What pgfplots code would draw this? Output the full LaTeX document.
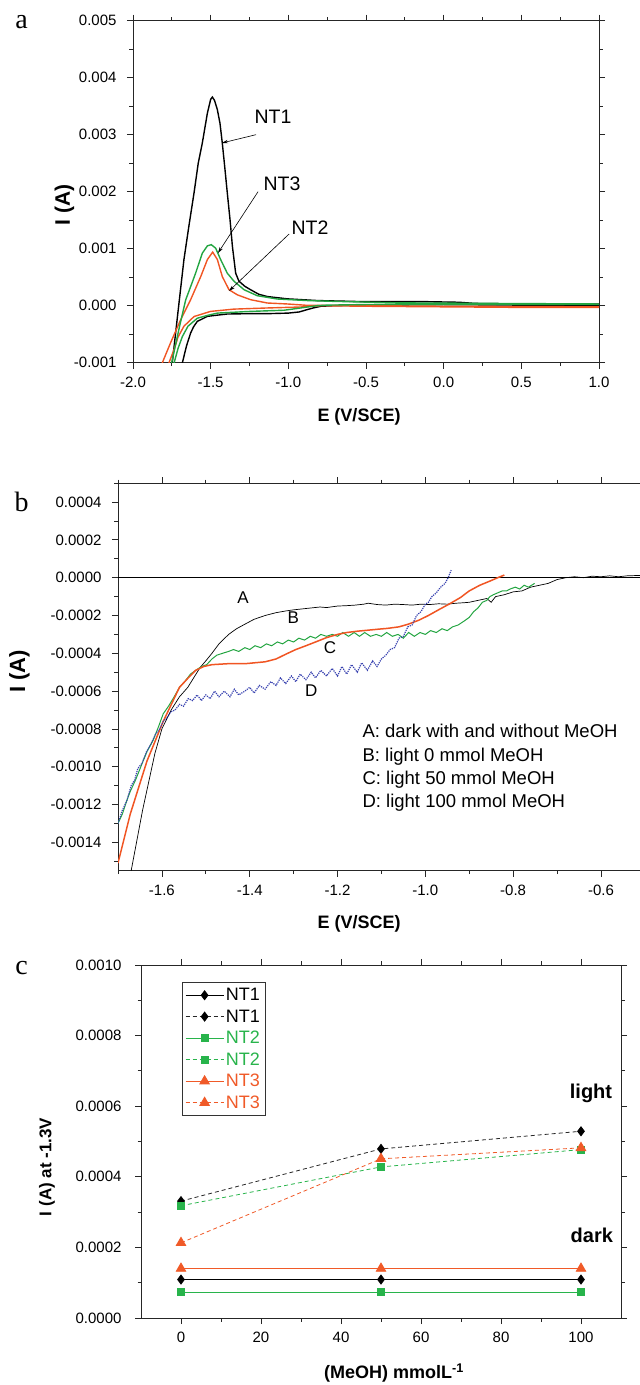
\documentclass[border=0pt]{standalone}
\usepackage{fontspec}
\setmainfont{Liberation Sans}
\newfontfamily\seriffont{Liberation Serif}
\usepackage{pgfplots}
\pgfplotsset{compat=1.18}
\usetikzlibrary{arrows.meta}

\definecolor{cvgreen}{RGB}{35,165,65}
\definecolor{cvorange}{RGB}{240,85,35}
\definecolor{cvblue}{RGB}{55,65,175}
\definecolor{mkgreen}{RGB}{40,180,75}
\definecolor{mkorange}{RGB}{240,90,40}

\pgfplotsset{
  common/.style={
    scale only axis,
    anchor=south west,
    tick align=outside,
    axis line style={line width=0.9bp, black!85},
    major tick length=6bp, minor tick length=3.5bp,
    every tick/.style={black!85, line width=0.8bp},
    tick label style={font=\fontsize{15bp}{18bp}\selectfont},
    xticklabel style={yshift=-5bp},
    yticklabel style={xshift=-7bp},
    /pgf/number format/assume math mode=true,
    scaled ticks=false,
    clip=true,
  }
}

\begin{document}
\begin{tikzpicture}
\useasboundingbox (0bp,0bp) rectangle (640bp,1385bp);

% panel letters
\node[font=\seriffont\fontsize{28bp}{30bp}\selectfont] at (21.5bp,1362.5bp) {a};
\node[font=\seriffont\fontsize{28bp}{30bp}\selectfont] at (21.5bp,883bp) {b};
\node[font=\seriffont\fontsize{28bp}{30bp}\selectfont] at (21.5bp,416.5bp) {c};

% ---------------- panel a ----------------
\begin{axis}[common,
  at={(133bp,1022.3bp)}, width=466bp, height=342bp,
  xmin=-2, xmax=1, ymin=-0.001, ymax=0.005,
  xtick={-2,-1.5,-1,-0.5,0,0.5,1}, minor x tick num=1,
  ytick={-0.001,0,0.001,0.002,0.003,0.004,0.005}, minor y tick num=1,
  xticklabel style={/pgf/number format/.cd,fixed,fixed zerofill,precision=1},
  yticklabel style={/pgf/number format/.cd,fixed,fixed zerofill,precision=3},
  xlabel={E (V/SCE)}, ylabel={I (A)},
  xlabel style={at={(rel axis cs:0.485,-0.159)},anchor=center,font=\bfseries\fontsize{18bp}{21bp}\selectfont},
  ylabel style={at={(rel axis cs:-0.147,0.461)},anchor=center,font=\bfseries\fontsize{21bp}{24bp}\selectfont},
]
% NT1 black
\addplot[black, line width=1.4bp] coordinates {
(1.0,0.00001) (0.5,0.00001) (0.0,0.00002) (-0.5,0.00001) (-0.7,0.0) (-0.79,-0.00001) (-0.84,-0.00004) (-0.88,-0.00007) (-0.93,-0.00011) (-1.0,-0.00013) (-1.135,-0.00014) (-1.25,-0.00014) (-1.393,-0.000146) (-1.47,-0.00017) (-1.521,-0.000187) (-1.56,-0.00024) (-1.586,-0.000275) (-1.61,-0.00037) (-1.629,-0.00048) (-1.655,-0.0007) (-1.682,-0.001) (-1.71,-0.0014)
(-1.765,-0.0014) (-1.747,-0.001) (-1.71,-0.0001) (-1.672,0.00081) (-1.64,0.0014) (-1.607,0.00198) (-1.58,0.0025) (-1.554,0.00285) (-1.521,0.00338) (-1.50,0.00362) (-1.489,0.00366) (-1.475,0.0036) (-1.457,0.00344) (-1.44,0.0032) (-1.425,0.00285) (-1.41,0.00245) (-1.393,0.00198) (-1.375,0.0015) (-1.36,0.00104) (-1.339,0.00057) (-1.318,0.00043) (-1.28,0.00034) (-1.243,0.00028) (-1.19,0.0002) (-1.135,0.00016) (-1.006,0.00012) (-0.813,0.00009) (-0.5,0.00007) (-0.1,0.00007) (0.1,0.00006) (0.2,0.00004) (0.5,0.00003) (1.0,0.00003)
};
% NT2 orange
\addplot[cvorange, line width=1.4bp] coordinates {
(1.0,-0.00003) (0.5,-0.00003) (0,-0.00002) (-0.5,-0.00001) (-0.792,0.0) (-0.92,-0.000023) (-1.135,-0.00004) (-1.35,-0.00006) (-1.5,-0.0001) (-1.607,-0.00019) (-1.672,-0.00036) (-1.71,-0.00055) (-1.736,-0.00077) (-1.768,-0.001) (-1.79,-0.0013)
(-1.83,-0.0013) (-1.811,-0.001) (-1.758,-0.00065) (-1.693,-0.000246) (-1.629,0.000105) (-1.564,0.00051) (-1.521,0.00081) (-1.487,0.00094) (-1.457,0.00081) (-1.425,0.00051) (-1.382,0.00028) (-1.328,0.00019) (-1.243,0.000105) (-1.135,0.000047) (-1.006,0.00003) (-0.878,0.000006) (-0.5,0.0) (0,-0.00001) (1.0,-0.00002)
};
% NT3 green
\addplot[cvgreen, line width=1.4bp] coordinates {
(1.0,0.00002) (0.3,0.00002) (-0.5,0.00002) (-0.75,0.00001) (-0.813,0.0) (-0.87,-0.00002) (-0.92,-0.00004) (-1.028,-0.00008) (-1.243,-0.0001) (-1.457,-0.00013) (-1.52,-0.00017) (-1.586,-0.00022) (-1.646,-0.00036) (-1.682,-0.00054) (-1.71,-0.00075) (-1.735,-0.001) (-1.75,-0.0013)
(-1.77,-0.0013) (-1.751,-0.001) (-1.70,-0.00036) (-1.661,0.0001) (-1.62,0.0004) (-1.597,0.00057) (-1.554,0.00092) (-1.521,0.00105) (-1.496,0.00107) (-1.468,0.00101) (-1.436,0.00081) (-1.393,0.00057) (-1.35,0.00043) (-1.285,0.00028) (-1.2,0.000175) (-1.071,0.000117) (-0.878,0.00009) (-0.706,0.000076) (-0.3,0.00005) (0.3,0.00004) (1.0,0.00003)
};
\node[font=\fontsize{19.5bp}{22bp}\selectfont] at (axis cs:-1.099,0.00331) {NT1};
\node[font=\fontsize{19.5bp}{22bp}\selectfont] at (axis cs:-1.041,0.002135) {NT3};
\node[font=\fontsize{19.5bp}{22bp}\selectfont] at (axis cs:-0.86,0.001363) {NT2};
\draw[-{Stealth[length=6bp,width=3.5bp]}, line width=0.6bp] (axis cs:-1.208,0.003) -- (axis cs:-1.427,0.002855);
\draw[-{Stealth[length=6bp,width=3.5bp]}, line width=0.6bp] (axis cs:-1.195,0.002) -- (axis cs:-1.453,0.000924);
\draw[-{Stealth[length=6bp,width=3.5bp]}, line width=0.6bp] (axis cs:-0.995,0.001258) -- (axis cs:-1.382,0.000258);
\end{axis}

% ---------------- panel b ----------------
\begin{axis}[common,
  at={(118bp,514.3bp)}, width=522bp, height=387.5bp,
  xmin=-1.7, xmax=-0.511, ymin=-0.00155, ymax=0.0005,
  axis x line*=box, axis y line*=left,
  xtick={-1.6,-1.4,-1.2,-1,-0.8,-0.6},
  minor xtick={-1.7,-1.5,-1.3,-1.1,-0.9,-0.7},
  ytick={-0.0014,-0.0012,-0.001,-0.0008,-0.0006,-0.0004,-0.0002,0,0.0002,0.0004},
  minor ytick={-0.0015,-0.0013,-0.0011,-0.0009,-0.0007,-0.0005,-0.0003,-0.0001,0.0001,0.0003,0.0005},
  xticklabel style={/pgf/number format/.cd,fixed,fixed zerofill,precision=1},
  yticklabel style={/pgf/number format/.cd,fixed,fixed zerofill,precision=4},
  xlabel={E (V/SCE)}, ylabel={I (A)},
  xlabel style={at={(rel axis cs:0.462,-0.1375)},anchor=center,font=\bfseries\fontsize{18bp}{21bp}\selectfont},
  ylabel style={at={(rel axis cs:-0.189,0.514)},anchor=center,font=\bfseries\fontsize{22bp}{25bp}\selectfont},
]
\addplot[black, line width=0.9bp] coordinates {(-1.7,0) (-0.511,0)};
% A black
\addplot[black, line width=0.7bp] coordinates {
(-1.67,-0.00155) (-1.644,-0.00123) (-1.616,-0.00093) (-1.60,-0.0008) (-1.579,-0.0007) (-1.56,-0.00063) (-1.541,-0.00058) (-1.525,-0.00052) (-1.513,-0.000475) (-1.5,-0.00044) (-1.486,-0.0004) (-1.47,-0.00035) (-1.448,-0.0003) (-1.43,-0.00027) (-1.411,-0.000246) (-1.39,-0.00022) (-1.365,-0.0002) (-1.34,-0.000185) (-1.318,-0.000176) (-1.30,-0.00017) (-1.28,-0.000165) (-1.26,-0.00016) (-1.24,-0.000155) (-1.225,-0.000158) (-1.2,-0.00015) (-1.18,-0.000148) (-1.16,-0.000145) (-1.14,-0.00014) (-1.13,-0.000135) (-1.11,-0.000142) (-1.09,-0.000145) (-1.07,-0.00014) (-1.05,-0.000142) (-1.03,-0.000145) (-1.01,-0.00014) (-0.99,-0.000142) (-0.97,-0.000138) (-0.95,-0.00014) (-0.93,-0.000135) (-0.91,-0.000132) (-0.90,-0.00013) (-0.88,-0.00012) (-0.86,-0.00011) (-0.85,-0.00013) (-0.84,-0.0001) (-0.82,-0.00009) (-0.80,-0.000075) (-0.78,-0.00007) (-0.76,-0.00005) (-0.74,-0.00004) (-0.72,-0.00003) (-0.70,-0.00001) (-0.68,0.0) (-0.66,0.000005) (-0.64,0.0) (-0.62,0.000008) (-0.60,0.000005) (-0.58,0.00001) (-0.56,0.000005) (-0.54,0.00001) (-0.511,0.000012)
};
% B green
\addplot[cvgreen, line width=1.0bp] coordinates {
(-1.700,-0.00130) (-1.690,-0.00125) (-1.680,-0.00118) (-1.672,-0.00113) (-1.660,-0.00107) (-1.648,-0.00100) (-1.634,-0.00092) (-1.620,-0.00086) (-1.608,-0.00079) (-1.597,-0.00072) (-1.585,-0.00068) (-1.572,-0.00063) (-1.560,-0.00058) (-1.548,-0.00055) (-1.535,-0.00051) (-1.523,-0.00049) (-1.510,-0.00047) (-1.498,-0.00046) (-1.486,-0.00043) (-1.475,-0.00041) (-1.462,-0.00040) (-1.448,-0.00039) (-1.437,-0.00038) (-1.425,-0.00039) (-1.411,-0.00037) (-1.400,-0.00038) (-1.388,-0.00036) (-1.375,-0.00037) (-1.362,-0.00035) (-1.350,-0.00036) (-1.337,-0.00034) (-1.325,-0.00035) (-1.312,-0.00033) (-1.300,-0.00034) (-1.288,-0.00032) (-1.275,-0.00033) (-1.262,-0.00031) (-1.250,-0.00032) (-1.238,-0.00030) (-1.225,-0.00031) (-1.212,-0.00030) (-1.200,-0.00031) (-1.188,-0.00029) (-1.175,-0.00031) (-1.162,-0.00029) (-1.150,-0.00031) (-1.138,-0.00029) (-1.125,-0.00031) (-1.112,-0.00030) (-1.100,-0.00031) (-1.088,-0.00029) (-1.075,-0.00031) (-1.062,-0.00030) (-1.050,-0.00032) (-1.038,-0.00029) (-1.025,-0.00031) (-1.012,-0.00029) (-1.000,-0.00030) (-0.988,-0.00028) (-0.975,-0.00029) (-0.962,-0.00027) (-0.950,-0.00028) (-0.938,-0.00026) (-0.925,-0.00025) (-0.912,-0.00023) (-0.900,-0.00021) (-0.890,-0.00018) (-0.880,-0.00016) (-0.870,-0.00013) (-0.860,-0.00012) (-0.853,-0.00010) (-0.845,-0.00009) (-0.835,-0.00008) (-0.825,-0.00007) (-0.815,-0.00007) (-0.807,-0.00006) (-0.795,-0.00005) (-0.785,-0.00006) (-0.775,-0.00004) (-0.765,-0.00005) (-0.751,-0.00003)
};
% C red
\addplot[cvorange, line width=1.5bp] coordinates {
(-1.7,-0.00151) (-1.672,-0.00125) (-1.634,-0.00097) (-1.597,-0.00076) (-1.56,-0.00058) (-1.54,-0.00053) (-1.523,-0.00049) (-1.505,-0.00047) (-1.486,-0.00046) (-1.45,-0.000455) (-1.411,-0.000455) (-1.365,-0.000445) (-1.34,-0.00043) (-1.318,-0.000405) (-1.295,-0.00038) (-1.272,-0.00036) (-1.25,-0.00034) (-1.225,-0.000317) (-1.2,-0.0003) (-1.179,-0.00029) (-1.155,-0.000283) (-1.132,-0.000278) (-1.11,-0.000273) (-1.086,-0.000268) (-1.06,-0.00026) (-1.039,-0.000246) (-1.015,-0.000225) (-0.993,-0.0002) (-0.97,-0.00017) (-0.946,-0.00014) (-0.92,-0.000105) (-0.9,-0.00007) (-0.876,-0.00004) (-0.853,-0.000018) (-0.835,0.0) (-0.82,0.000014)
};
% D blue
\addplot[cvblue, line width=1.2bp, densely dotted] coordinates {
(-1.700,-0.00130) (-1.690,-0.00123) (-1.680,-0.00118) (-1.670,-0.00110) (-1.662,-0.00107) (-1.655,-0.00101) (-1.645,-0.00098) (-1.635,-0.00092) (-1.625,-0.00088) (-1.615,-0.00083) (-1.605,-0.00080) (-1.597,-0.00076) (-1.588,-0.00074) (-1.580,-0.00071) (-1.570,-0.00070) (-1.560,-0.00067) (-1.551,-0.00068) (-1.540,-0.00064) (-1.530,-0.00065) (-1.520,-0.00062) (-1.510,-0.00065) (-1.500,-0.00062) (-1.490,-0.00064) (-1.480,-0.00060) (-1.470,-0.00063) (-1.458,-0.00060) (-1.445,-0.00063) (-1.435,-0.00059) (-1.425,-0.00062) (-1.411,-0.00060) (-1.400,-0.00058) (-1.390,-0.00061) (-1.378,-0.00057) (-1.365,-0.00059) (-1.352,-0.00055) (-1.340,-0.00057) (-1.330,-0.00053) (-1.318,-0.00056) (-1.305,-0.00052) (-1.295,-0.00055) (-1.285,-0.00051) (-1.272,-0.00054) (-1.260,-0.00050) (-1.250,-0.00053) (-1.238,-0.00049) (-1.225,-0.00052) (-1.212,-0.00048) (-1.200,-0.00052) (-1.190,-0.00047) (-1.179,-0.00051) (-1.168,-0.00046) (-1.155,-0.00050) (-1.145,-0.00045) (-1.132,-0.00049) (-1.120,-0.00044) (-1.110,-0.00047) (-1.100,-0.00043) (-1.090,-0.00041) (-1.080,-0.00038) (-1.070,-0.00037) (-1.060,-0.00032) (-1.050,-0.00031) (-1.040,-0.00026) (-1.030,-0.00025) (-1.020,-0.00020) (-1.010,-0.00018) (-1.000,-0.00014) (-0.993,-0.00013) (-0.985,-0.00010) (-0.975,-0.00008) (-0.965,-0.00005) (-0.955,-0.00003) (-0.948,0.00000) (-0.941,0.00004)
};
\node[font=\fontsize{17bp}{20bp}\selectfont] at (axis cs:-1.415,-0.000107) {A};
\node[font=\fontsize{17bp}{20bp}\selectfont] at (axis cs:-1.301,-0.000213) {B};
\node[font=\fontsize{17bp}{20bp}\selectfont] at (axis cs:-1.217,-0.000372) {C};
\node[font=\fontsize{17bp}{20bp}\selectfont] at (axis cs:-1.26,-0.0006) {D};
\node[font=\fontsize{18.5bp}{21bp}\selectfont, anchor=base west, inner sep=0pt] at (axis cs:-1.1434,-0.000847) {A: dark with and without MeOH};
\node[font=\fontsize{18.5bp}{21bp}\selectfont, anchor=base west, inner sep=0pt] at (axis cs:-1.1434,-0.00097) {B: light 0 mmol MeOH};
\node[font=\fontsize{18.5bp}{21bp}\selectfont, anchor=base west, inner sep=0pt] at (axis cs:-1.1434,-0.001093) {C: light 50 mmol MeOH};
\node[font=\fontsize{18.5bp}{21bp}\selectfont, anchor=base west, inner sep=0pt] at (axis cs:-1.1434,-0.001217) {D: light 100 mmol MeOH};
\end{axis}

% ---------------- panel c ----------------
\begin{axis}[common,
  at={(141bp,67bp)}, width=480bp, height=353bp,
  xmin=-10, xmax=110, ymin=0, ymax=0.001,
  xtick={0,20,40,60,80,100}, minor x tick num=1,
  ytick={0,0.0002,0.0004,0.0006,0.0008,0.001}, minor y tick num=1,
  yticklabel style={xshift=-3bp,/pgf/number format/.cd,fixed,fixed zerofill,precision=4},
  xlabel={(MeOH) mmolL\textsuperscript{-1}}, ylabel={I (A) at -1.3V},
  xlabel style={at={(rel axis cs:0.527,-0.156)},anchor=center,font=\bfseries\fontsize{18bp}{21bp}\selectfont},
  ylabel style={at={(rel axis cs:-0.196,0.428)},anchor=center,font=\bfseries\fontsize{17bp}{20bp}\selectfont},
  legend style={at={(rel axis cs:0.085,0.952)}, anchor=north west, draw=black!80, line width=0.8bp,
    font=\fontsize{18bp}{21bp}\selectfont, inner xsep=3bp, inner ysep=4bp, row sep=3.5bp},
  legend cell align=left,
  legend image code/.code={\draw[mark repeat=2,mark phase=2,#1] plot coordinates {(0bp,0bp) (19bp,0bp) (38bp,0bp)};},
]
\addplot[black, line width=0.8bp, mark=diamond*, mark size=4.5bp, mark options={solid}] coordinates {(0,0.000109) (50,0.000109) (100,0.000109)};
\addlegendentry{NT1}
\addplot[black!85, line width=0.8bp, dash pattern=on 4bp off 3bp, mark=diamond*, mark size=4.5bp, mark options={solid,fill=black,draw=black}] coordinates {(0,0.000331) (50,0.000479) (100,0.000529)};
\addlegendentry{NT1}
\addplot[mkgreen, line width=0.8bp, mark=square*, mark size=3.6bp, mark options={solid}] coordinates {(0,0.0000737) (50,0.0000737) (100,0.0000737)};
\addlegendentry{\textcolor{mkgreen}{NT2}}
\addplot[mkgreen, line width=0.8bp, dash pattern=on 4bp off 3bp, mark=square*, mark size=3.6bp, mark options={solid}] coordinates {(0,0.000318) (50,0.000428) (100,0.000477)};
\addlegendentry{\textcolor{mkgreen}{NT2}}
\addplot[mkorange, line width=0.8bp, mark=triangle*, mark size=5.5bp, mark options={solid}] coordinates {(0,0.00014) (50,0.00014) (100,0.00014)};
\addlegendentry{\textcolor{mkorange}{NT3}}
\addplot[mkorange, line width=0.8bp, dash pattern=on 4bp off 3bp, mark=triangle*, mark size=5.5bp, mark options={solid}] coordinates {(0,0.000213) (50,0.000451) (100,0.000482)};
\addlegendentry{\textcolor{mkorange}{NT3}}
\node[font=\bfseries\fontsize{20bp}{23bp}\selectfont] at (axis cs:102.5,0.000637) {light};
\node[font=\bfseries\fontsize{20bp}{23bp}\selectfont] at (axis cs:102.7,0.000235) {dark};
\end{axis}
\end{tikzpicture}
\end{document}
